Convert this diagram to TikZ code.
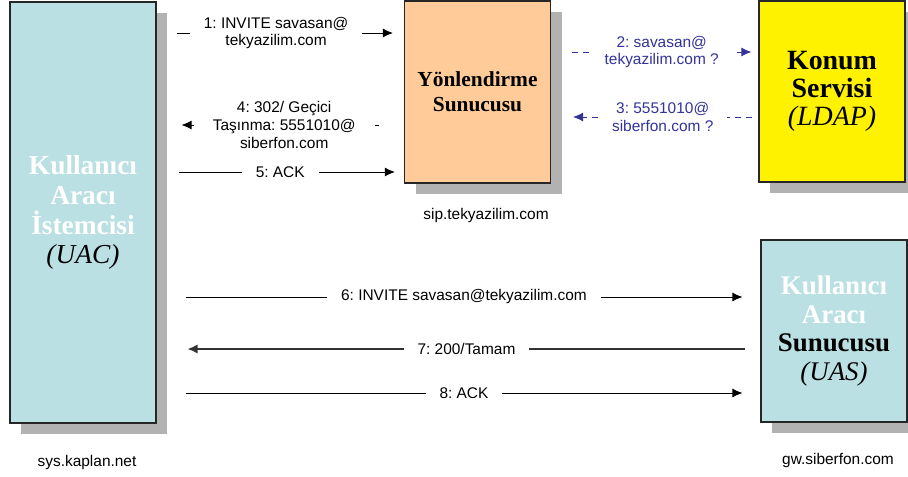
\documentclass[tikz,border=0pt]{standalone}
\usepackage{fontspec}
\setmainfont{Liberation Serif}
\setsansfont{Liberation Sans}
\usetikzlibrary{arrows.meta,shadows}
\frenchspacing

\definecolor{agentcyan}{HTML}{BBE0E3}
\definecolor{proxyorange}{HTML}{FFCC99}
\definecolor{msgblue}{HTML}{333399}

\tikzset{
  agent/.style={draw=black!85, line width=1.3pt, align=center, inner sep=0pt,
    minimum width=146bp,
    drop shadow={shadow xshift=11bp, shadow yshift=-11bp, fill=black!30, opacity=1}},
  msg/.style={-{Latex[length=10bp,width=9bp]}, line width=0.9pt},
  lookup/.style={msg, draw=msgblue, dash pattern=on 6bp off 5bp},
  msglabel/.style={fill=white, align=center, inner ysep=0pt, inner xsep=14bp,
    font=\sffamily\fontsize{15.5}{18}\selectfont},
  hostname/.style={font=\sffamily\fontsize{15.5}{18}\selectfont},
}

\begin{document}
\begin{tikzpicture}[x=1bp, y=-1bp]
\useasboundingbox (0,0) rectangle (908,477);

% the four parties
\node[agent, fill=agentcyan, minimum height=421bp, font=\bfseries\fontsize{27.5}{30}\selectfont]
  (uac) at (83,212.5) {\textcolor{white}{Kullanıcı}\\ \textcolor{white}{Aracı}\\ \textcolor{white}{İstemcisi}\\ \mdseries\itshape (UAC)};
\node[agent, fill=proxyorange, minimum height=182bp, font=\bfseries\fontsize{21.5}{25}\selectfont]
  (proxy) at (477.5,92) {Yönlendirme\\Sunucusu};
\node[agent, fill=yellow, minimum height=181bp, font=\bfseries\fontsize{28}{28}\selectfont]
  (ldap) at (832,91.5) {Konum\\Servisi\\ \mdseries\itshape (LDAP)};
\node[agent, fill=agentcyan, minimum height=182bp, font=\bfseries\fontsize{27}{29}\selectfont]
  (uas) at (834,331) {\textcolor{white}{Kullanıcı}\\ \textcolor{white}{Aracı}\\ Sunucusu\\ \mdseries\itshape (UAS)};

% host names
\node[hostname] (uachost) at (87,463) {sys.kaplan.net};
\node[hostname] (proxyhost) at (486,216) {sip.tekyazilim.com};
\node[hostname] (uashost) at (838,461) {gw.siberfon.com};

% redirect exchange
\draw[msg] ([xshift=20]uac.east |- 0,33) -- ([xshift=-11]proxy.west |- 0,33)
  node[msglabel, pos=0.46] (m1) {1: INVITE savasan@\\tekyazilim.com};
\draw[lookup] ([xshift=21]proxy.east |- 0,52) -- ([xshift=-7]ldap.west |- 0,52)
  node[msglabel, text=msgblue, midway] (m2) {2: savasan@\\tekyazilim.com ?};
\draw[lookup] ([xshift=-6]ldap.west |- 0,117) -- ([xshift=22]proxy.east |- 0,117)
  node[msglabel, text=msgblue, midway] (m3) {3: 5551010@\\siberfon.com ?};
\draw[msg] ([xshift=-25]proxy.west |- 0,125) -- ([xshift=25]uac.east |- 0,125)
  node[msglabel, pos=0.48, inner xsep=19bp] (m4) {4: 302/ Geçici\\Taşınma: 5551010@\\siberfon.com};
\draw[msg] ([xshift=22]uac.east |- 0,172) -- ([xshift=-9]proxy.west |- 0,172)
  node[msglabel, pos=0.47] (m5) {5: ACK};

% direct call setup
\draw[msg] ([xshift=29]uac.east |- 0,297) -- ([xshift=-18]uas.west |- 0,297)
  node[msglabel, midway] (m6) {6: INVITE savasan@tekyazilim.com};
\draw[msg, line width=1.3pt, draw=black!80] ([xshift=-15]uas.west |- 0,349) -- ([xshift=31]uac.east |- 0,349)
  node[msglabel, pos=0.5] (m7) {7: 200/Tamam};
\draw[msg] ([xshift=29]uac.east |- 0,393) -- ([xshift=-18]uas.west |- 0,393)
  node[msglabel, midway] (m8) {8: ACK};
\end{tikzpicture}
\end{document}
